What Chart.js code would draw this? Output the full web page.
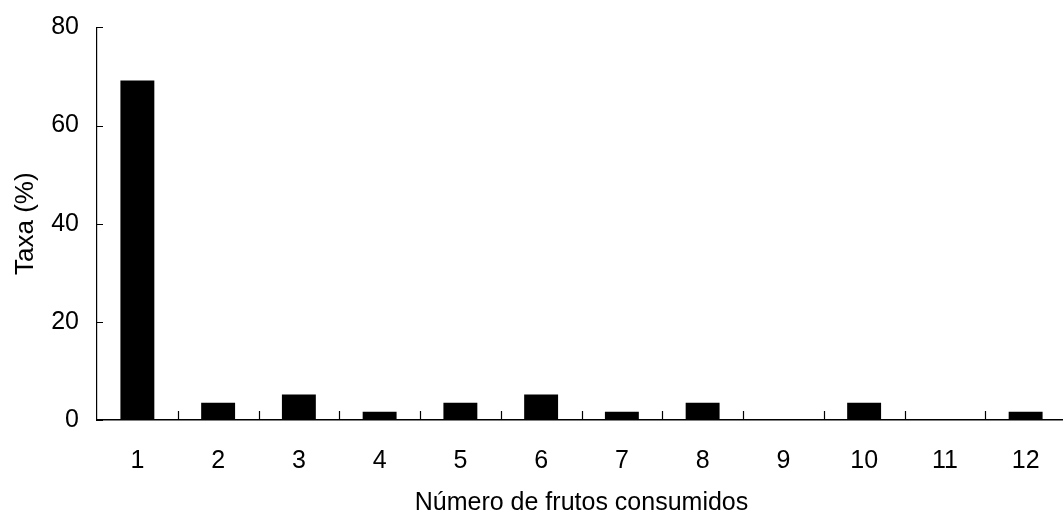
<!DOCTYPE html>
<html>
<head>
<meta charset="utf-8">
<script src="https://cdn.jsdelivr.net/npm/chart.js@4/dist/chart.umd.min.js"></script>
<style>
  html, body { margin: 0; padding: 0; background: #fff; overflow: hidden; }
  #wrap { width: 1070px; height: 528px; }
</style>
</head>
<body>
<div id="wrap"><canvas id="c"></canvas></div>
<script>
/* ---- data ---- */
const frutos = ['1', '2', '3', '4', '5', '6', '7', '8', '9', '10', '11', '12'];
const taxa   = [69.2, 3.5, 5.2, 1.7, 3.5, 5.2, 1.7, 3.5, 0, 3.5, 0, 1.7];
const yTicks = [0, 20, 40, 60, 80];

const FONT = 'Arial, "Liberation Sans", sans-serif';

/* inward tick marks on both axes */
const inwardTicks = {
  id: 'inwardTicks',
  afterDraw(chart) {
    const ctx = chart.ctx;
    const x = chart.scales.x, y = chart.scales.y;
    ctx.save();
    ctx.strokeStyle = '#000';
    ctx.lineWidth = 1.2;
    ctx.beginPath();
    // y ticks point right
    yTicks.forEach(v => {
      const py = Math.round(y.getPixelForValue(v)) + 0.5;
      ctx.moveTo(x.left, py);
      ctx.lineTo(x.left + 6, py);
    });
    // x ticks at category boundaries, pointing up
    for (let i = 0; i < frutos.length - 1; i++) {
      const px = Math.round((x.getPixelForTick(i) + x.getPixelForTick(i + 1)) / 2) + 0.5;
      ctx.moveTo(px, y.bottom);
      ctx.lineTo(px, y.bottom - 9);
    }
    ctx.stroke();
    ctx.restore();
  }
};

new Chart(document.getElementById('c'), {
  type: 'bar',
  data: {
    labels: frutos,
    datasets: [{
      data: taxa,
      backgroundColor: '#000',
      borderWidth: 0,
      barPercentage: 0.42,
      categoryPercentage: 1.0,
    }],
  },
  options: {
    responsive: true,
    maintainAspectRatio: false,
    animation: false,
    layout: { padding: { top: 10, right: 4, left: 10, bottom: 10 } },
    plugins: {
      legend:  { display: false },
      tooltip: { enabled: false },
    },
    scales: {
      x: {
        offset: true,
        grid:   { display: false, drawTicks: false },
        border: { display: true, color: '#000', width: 1.5 },
        ticks:  { color: '#000', font: { family: FONT, size: 25 }, padding: 26 },
        title:  {
          display: true,
          text: 'Número de frutos consumidos',
          color: '#000',
          font: { family: FONT, size: 25 },
          padding: { top: 0, bottom: 0 },
        },
        afterFit(scale) { scale.height = 98; },
      },
      y: {
        min: 0,
        max: 80,
        afterBuildTicks(scale) { scale.ticks = yTicks.map(v => ({ value: v })); },
        grid:   { display: false, drawTicks: false },
        border: { display: true, color: '#000', width: 1.2 },
        ticks:  { color: '#000', font: { family: FONT, size: 25, lineHeight: 0.75 }, padding: 18 },
        title:  {
          display: true,
          text: 'Taxa (%)',
          color: '#000',
          font: { family: FONT, size: 26 },
          padding: { top: 0, bottom: 0 },
        },
        afterFit(scale) { scale.width = 87; },
      },
    },
  },
  plugins: [inwardTicks],
});
</script>
</body>
</html>
